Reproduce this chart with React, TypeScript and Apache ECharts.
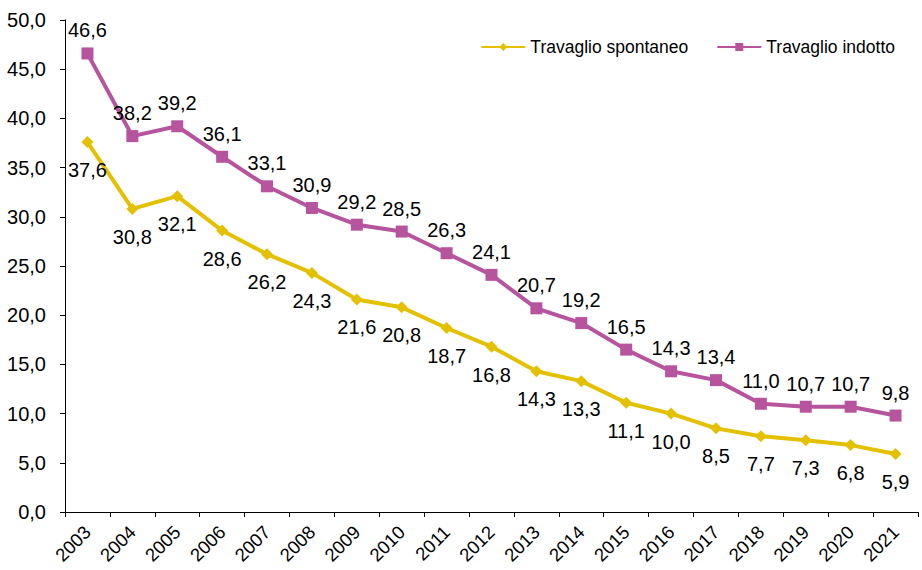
import React, { useEffect, useRef } from "react";
import * as echarts from "echarts";

const years = ["2003","2004","2005","2006","2007","2008","2009","2010","2011","2012","2013","2014","2015","2016","2017","2018","2019","2020","2021"];
const spontaneo = [37.6,30.8,32.1,28.6,26.2,24.3,21.6,20.8,18.7,16.8,14.3,13.3,11.1,10.0,8.5,7.7,7.3,6.8,5.9];
const indotto = [46.6,38.2,39.2,36.1,33.1,30.9,29.2,28.5,26.3,24.1,20.7,19.2,16.5,14.3,13.4,11.0,10.7,10.7,9.8];

const fmt = (v: number) => v.toFixed(1).replace(".", ",");
const FONT = "Liberation Sans, Arial, sans-serif";

export default function App() {
  const ref = useRef<HTMLDivElement>(null);
  useEffect(() => {
    const chart = echarts.init(ref.current!, null, { renderer: "svg" });
    chart.setOption({
      animation: false,
      textStyle: { fontFamily: FONT },
      grid: { left: 65, right: 4, top: 20, bottom: 58 },
      legend: {
        right: 22, top: 33, itemWidth: 44, itemHeight: 10, itemGap: 28,
        textStyle: { fontSize: 17.5, color: "#000", fontFamily: FONT },
        data: ["Travaglio spontaneo", "Travaglio indotto"],
      },
      xAxis: {
        type: "category", data: years, boundaryGap: true,
        axisLine: { lineStyle: { color: "#000", width: 1 } },
        axisTick: { show: true, alignWithLabel: false, length: 5, lineStyle: { color: "#000" } },
        axisLabel: { rotate: 45, color: "#000", fontSize: 18.5, margin: 17, interval: 0, fontFamily: FONT },
      },
      yAxis: {
        type: "value", min: 0, max: 50, interval: 5,
        axisLine: { show: true, lineStyle: { color: "#000", width: 1 } },
        axisTick: { show: true, length: 5, lineStyle: { color: "#000" } },
        splitLine: { show: false },
        axisLabel: { color: "#000", fontSize: 20, margin: 19, formatter: (v: number) => fmt(v), fontFamily: FONT },
      },
      series: [
        {
          name: "Travaglio spontaneo", type: "line", data: spontaneo,
          symbol: "diamond", symbolSize: 12,
          lineStyle: { color: "#E3C000", width: 4 },
          itemStyle: { color: "#E3C000" },
          label: { show: true, position: "bottom", distance: 12, fontSize: 20, color: "#000", formatter: (p: any) => fmt(p.value), fontFamily: FONT },
        },
        {
          name: "Travaglio indotto", type: "line", data: indotto,
          symbol: "rect", symbolSize: 12,
          lineStyle: { color: "#B6549D", width: 4 },
          itemStyle: { color: "#B6549D" },
          label: { show: true, position: "top", distance: 7, fontSize: 20, color: "#000", formatter: (p: any) => fmt(p.value), fontFamily: FONT },
        },
      ],
    });
    return () => chart.dispose();
  }, []);
  return <div ref={ref} style={{ width: 922, height: 570, position: "absolute", left: 0, top: 0 }} />;
}
